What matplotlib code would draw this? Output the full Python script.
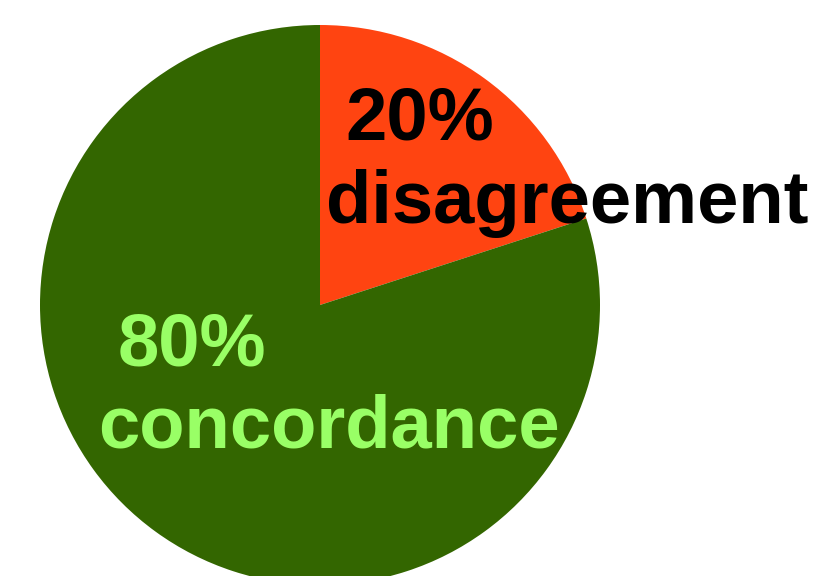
import matplotlib
matplotlib.use("Agg")
import matplotlib.pyplot as plt

labels = ["disagreement", "concordance"]
values = [20, 80]
colors = ["#FF4411", "#336600"]

W, H = 813, 576
fig = plt.figure(figsize=(W / 100, H / 100), dpi=100)
fig.patch.set_facecolor("white")

cx, cy, r = 320, 305, 280
ax = fig.add_axes([(cx - r) / W, (H - cy - r) / H, 2 * r / W, 2 * r / H])
ax.pie(values, colors=colors, startangle=90, counterclock=False,
       wedgeprops=dict(linewidth=0))
ax.set_xlim(-1, 1)
ax.set_ylim(-1, 1)
ax.set_aspect("auto")
ax.axis("off")

font = dict(family="Liberation Sans", weight="bold", fontsize=53.5)

def ptxt(x, y, s, color):
    fig.text(x / W, 1 - y / H, s, ha="center", va="baseline", color=color, **font)

ptxt(420, 140, f"{values[0]}%", "black")
ptxt(567, 223, labels[0], "black")
ptxt(192, 365, f"{values[1]}%", "#99FF66")
ptxt(329, 448, labels[1], "#99FF66")

fig.savefig("out.png", dpi=100)
